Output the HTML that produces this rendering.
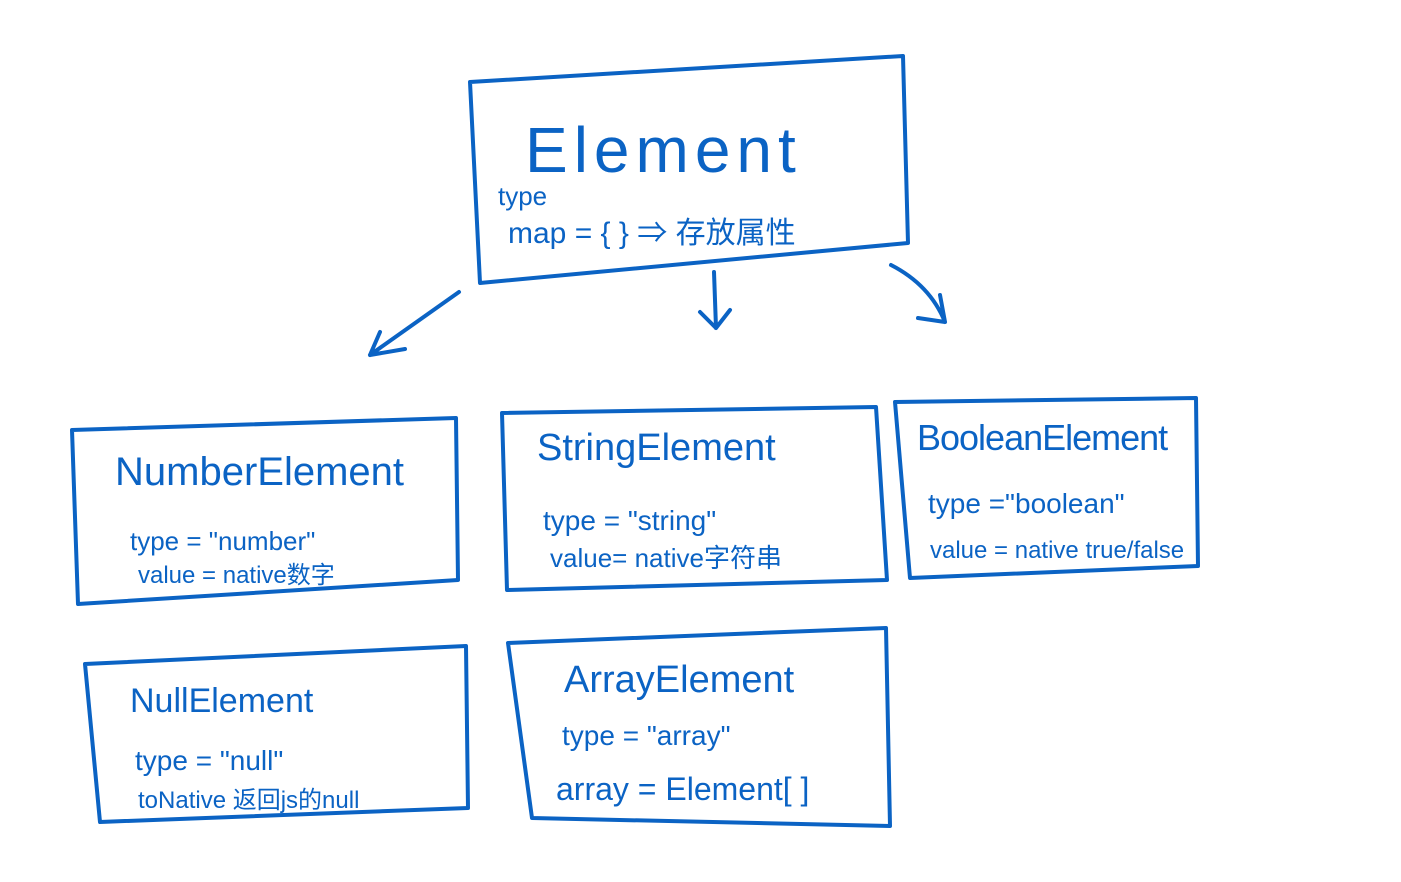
<!DOCTYPE html>
<html><head><meta charset="utf-8"><style>
html,body{margin:0;padding:0;background:#fff;}
svg{display:block;}
text{fill:#0b63c4;font-family:"Liberation Sans","Noto Sans CJK SC",sans-serif;}
</style></head><body>
<svg width="1401" height="882" viewBox="0 0 1401 882" xmlns="http://www.w3.org/2000/svg">
<g fill="none" stroke="#0b63c4" stroke-width="4" stroke-linejoin="round" stroke-linecap="round">
<path d="M470 82 L903 56 L908 243 L480 283 Z"/>
<path d="M72 430 L456 418 L458 580 L78 604 Z"/>
<path d="M502 413 L876 407 L887 580 L507 590 Z"/>
<path d="M895 402 L1196 398 L1198 566 L910 578 Z"/>
<path d="M85 664 L466 646 L468 808 L100 822 Z"/>
<path d="M508 643 L886 628 L890 826 L532 818 Z"/>
<path d="M459 292 L370 355 M370 355 L405 349 M370 355 L380 332"/>
<path d="M714 272 L716 328 M716 328 L700 312 M716 328 L730 310"/>
<path d="M891 265 Q930 285 945 322 M945 322 L918 318 M945 322 L940 295"/>
</g>
<text x="525" y="172" font-size="64" letter-spacing="6">Element</text>
<text x="498" y="205" font-size="26">type</text>
<text x="508" y="243" font-size="30">map = { } ⇒ 存放属性</text>

<text x="115" y="485" font-size="40">NumberElement</text>
<text x="130" y="550" font-size="26">type = "number"</text>
<text x="138" y="583" font-size="24">value = native数字</text>

<text x="537" y="460" font-size="38">StringElement</text>
<text x="543" y="530" font-size="28">type = "string"</text>
<text x="550" y="567" font-size="26">value= native字符串</text>

<text x="917" y="450" font-size="36" letter-spacing="-1">BooleanElement</text>
<text x="928" y="513" font-size="28">type ="boolean"</text>
<text x="930" y="558" font-size="24">value = native true/false</text>

<text x="130" y="712" font-size="34">NullElement</text>
<text x="135" y="770" font-size="28">type = "null"</text>
<text x="138" y="808" font-size="24">toNative 返回js的null</text>

<text x="564" y="692" font-size="38">ArrayElement</text>
<text x="562" y="745" font-size="28">type = "array"</text>
<text x="556" y="800" font-size="32">array = Element[ ]</text>
</svg>
</body></html>
